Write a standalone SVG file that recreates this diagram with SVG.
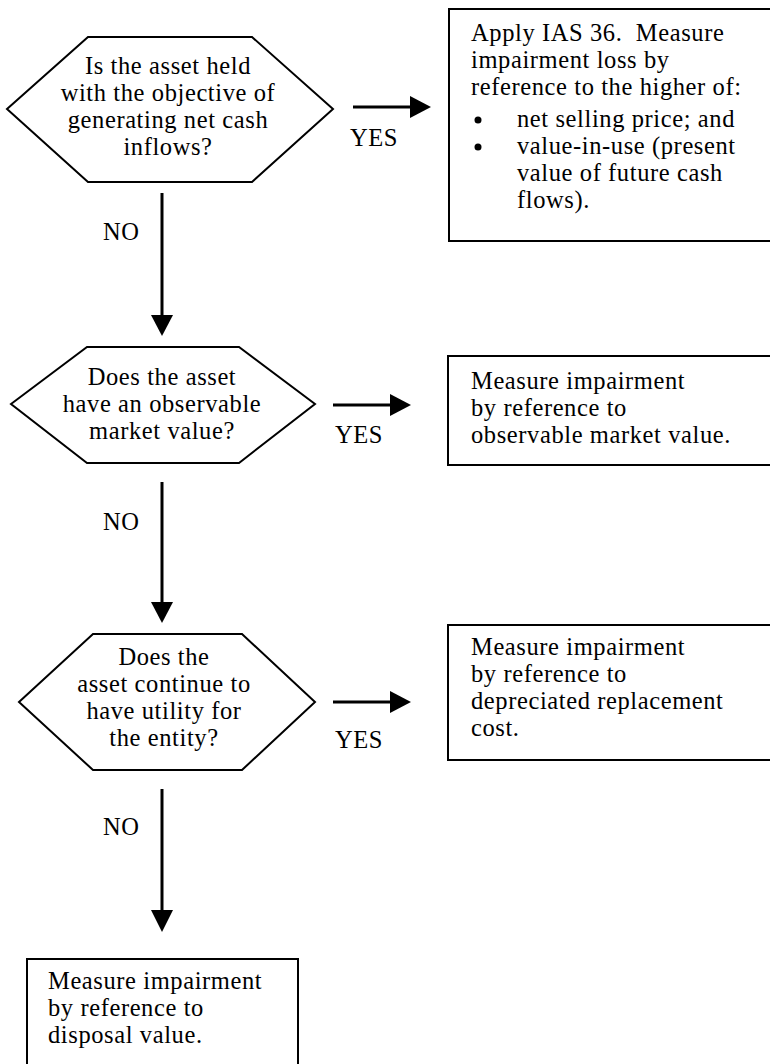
<svg xmlns="http://www.w3.org/2000/svg" width="770" height="1064" viewBox="0 0 770 1064">
<style>
.shape{fill:#fff;stroke:#000;stroke-width:2}
.line{stroke:#000;stroke-width:3;fill:none}
.head{fill:#000}
text{font-family:"Liberation Serif","Times New Roman",serif;font-size:24.5px;letter-spacing:0.6px;fill:#000}
.c{text-anchor:middle}
</style>
<rect width="770" height="1064" fill="#fff"/>
<g id="q1">
<polygon class="shape" points="7,109 88,37 252,37 333,109 252,182 88,182"/>
<text class="c" x="168" y="74">Is the asset held</text>
<text class="c" x="168" y="101">with the objective of</text>
<text class="c" x="168" y="128">generating net cash</text>
<text class="c" x="168" y="155">inflows?</text>
</g>
<g id="r1">
<rect class="shape" x="449" y="9" width="340" height="232"/>
<text x="471" y="41" xml:space="preserve" style="white-space:pre">Apply IAS 36.  Measure</text>
<text x="471" y="68">impairment loss by</text>
<text x="471" y="95">reference to the higher of:</text>
<circle cx="478" cy="120" r="3.5"/>
<text x="517" y="127">net selling price; and</text>
<circle cx="478" cy="147" r="3.5"/>
<text x="517" y="154">value-in-use (present</text>
<text x="517" y="181">value of future cash</text>
<text x="517" y="208">flows).</text>
</g>
<g id="q2">
<polygon class="shape" points="11,404 87,347 239,347 315,404 239,463 87,463"/>
<text class="c" x="162" y="385">Does the asset</text>
<text class="c" x="162" y="412">have an observable</text>
<text class="c" x="162" y="439">market value?</text>
</g>
<g id="r2">
<rect class="shape" x="448" y="356" width="340" height="109"/>
<text x="471" y="389">Measure impairment</text>
<text x="471" y="416">by reference to</text>
<text x="471" y="443">observable market value.</text>
</g>
<g id="q3">
<polygon class="shape" points="19,702 93,634 242,634 315,702 242,770 93,770"/>
<text class="c" x="164" y="665">Does the</text>
<text class="c" x="164" y="692">asset continue to</text>
<text class="c" x="164" y="719">have utility for</text>
<text class="c" x="164" y="746">the entity?</text>
</g>
<g id="r3">
<rect class="shape" x="448" y="625" width="340" height="135"/>
<text x="471" y="655">Measure impairment</text>
<text x="471" y="682">by reference to</text>
<text x="471" y="709">depreciated replacement</text>
<text x="471" y="736">cost.</text>
</g>
<g id="r4">
<rect class="shape" x="27" y="959" width="271" height="120"/>
<text x="48" y="989">Measure impairment</text>
<text x="48" y="1016">by reference to</text>
<text x="48" y="1043">disposal value.</text>
</g>
<g id="connectors">
<line class="line" x1="353" y1="107" x2="412" y2="107"/>
<polygon class="head" points="410,96 431,107 410,118"/>
<text x="350" y="146">YES</text>
<line class="line" x1="162" y1="193" x2="162" y2="317"/>
<polygon class="head" points="151,315 173,315 162,336"/>
<text x="103" y="240">NO</text>
<line class="line" x1="333" y1="405" x2="392" y2="405"/>
<polygon class="head" points="390,394 411,405 390,416"/>
<text x="335" y="443">YES</text>
<line class="line" x1="162" y1="482" x2="162" y2="604"/>
<polygon class="head" points="151,602 173,602 162,623"/>
<text x="103" y="530">NO</text>
<line class="line" x1="333" y1="702" x2="392" y2="702"/>
<polygon class="head" points="390,691 411,702 390,713"/>
<text x="335" y="748">YES</text>
<line class="line" x1="162" y1="789" x2="162" y2="912"/>
<polygon class="head" points="151,910 173,910 162,932"/>
<text x="103" y="835">NO</text>
</g>
</svg>
